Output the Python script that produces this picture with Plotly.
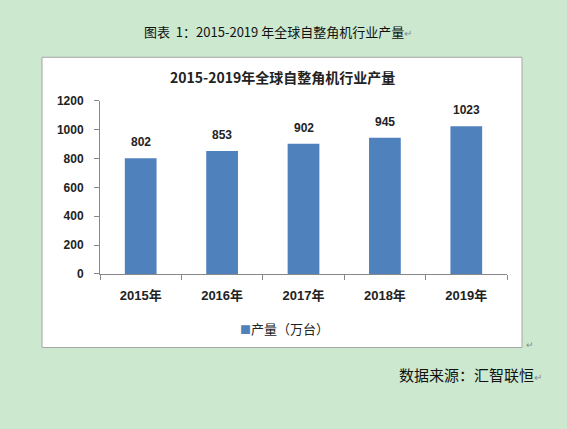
import plotly.graph_objects as go

categories = ["2015年", "2016年", "2017年", "2018年", "2019年"]
values = [802, 853, 902, 945, 1023]
series_name = "产量（万台）"
chart_title = "2015-2019年全球自整角机行业产量"
caption = "图表  1：2015-2019 年全球自整角机行业产量"
source = "数据来源：汇智联恒"

W, H = 567, 429
BG = "#CCE8CF"
BAR = "#4F81BD"
FONT = "Liberation Sans, Noto Sans CJK SC"

def px(x):
    return x / W

def py(y):
    return 1 - y / H

fig = go.Figure()
fig.add_trace(go.Bar(
    x=categories, y=values, name=series_name,
    marker=dict(color=BAR, line=dict(width=0)),
    width=0.39,
    showlegend=False,
))

for c, v in zip(categories, values):
    fig.add_annotation(x=c, y=v, xref="x", yref="y", text=str(v), showarrow=False,
                       yanchor="bottom", yshift=7,
                       font=dict(size=12, color="#222222", family=FONT, weight="bold"))

fig.update_layout(
    width=W, height=H,
    margin=dict(l=0, r=0, t=0, b=0),
    paper_bgcolor=BG, plot_bgcolor="rgba(0,0,0,0)",
    font=dict(family=FONT, color="#222222"),
    showlegend=False,
    xaxis=dict(domain=[px(100), px(507)], type="category", tickson="boundaries",
               ticks="outside", ticklen=5, tickcolor="#888888",
               showline=True, linecolor="#888888", linewidth=1, showgrid=False,
               ticklabelstandoff=9,
               tickfont=dict(size=13, family=FONT, color="#222222", weight="bold")),
    yaxis=dict(domain=[py(276), py(97)], range=[0, 1200], dtick=200,
               ticks="outside", ticklen=5, tickcolor="#888888",
               showline=True, linecolor="#888888", linewidth=1, showgrid=False,
               zeroline=False, ticklabelstandoff=8,
               tickfont=dict(size=12, family=FONT, color="#222222", weight="bold")),
)

fig.add_shape(type="rect", xref="paper", yref="paper",
              x0=px(42), x1=px(522), y0=py(352), y1=py(52),
              fillcolor="white", line=dict(color="#A6A6A6", width=1), layer="below")

# legend (manual, Excel-like compact)
fig.add_annotation(xref="paper", yref="paper", x=px(238), y=py(332),
                   text="<span style='color:" + BAR + ";font-size:11px'>■</span>" + series_name,
                   showarrow=False, font=dict(size=13, family="Noto Sans CJK SC", color="#222222"),
                   xanchor="left", yanchor="middle")

fig.add_annotation(xref="paper", yref="paper", x=px(282), y=py(72), text="<b>" + chart_title + "</b>",
                   showarrow=False, font=dict(size=14, family="Noto Sans CJK SC", color="#222222"),
                   xanchor="center", yanchor="middle")
fig.add_annotation(xref="paper", yref="paper", x=px(142), y=py(25), text=caption + "<span style='color:#888888;font-size:10px'>↵</span>",
                   showarrow=False, font=dict(size=13, family="Noto Sans CJK SC", color="#111111"),
                   xanchor="left", yanchor="middle")
fig.add_annotation(xref="paper", yref="paper", x=px(397), y=py(380), text=source + "<span style='color:#888888;font-size:10px'>↵</span>",
                   showarrow=False, font=dict(size=15, family="Noto Sans CJK SC", color="#111111"),
                   xanchor="left", yanchor="middle")
fig.add_annotation(xref="paper", yref="paper", x=px(524), y=py(349), text="↵",
                   showarrow=False, font=dict(size=9, color="#888888"),
                   xanchor="left", yanchor="middle")

fig.write_html("out.html")
